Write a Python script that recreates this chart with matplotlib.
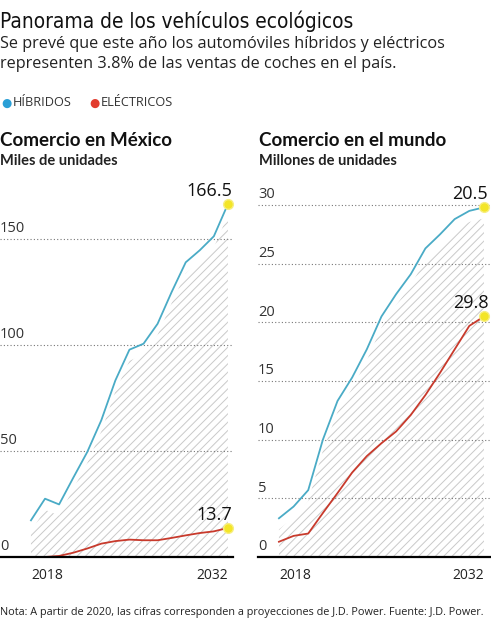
import matplotlib
matplotlib.use('Agg')
import matplotlib.pyplot as plt
from matplotlib import font_manager
from matplotlib.transforms import ScaledTranslation, blended_transform_factory


def pick_font(names):
    """First installed family from names"""
    for n in names:
        try:
            font_manager.findfont(n, fallback_to_default=False)
            return n
        except Exception:
            pass
    return 'DejaVu Sans'


BODY = pick_font(['Open Sans', 'Noto Sans', 'DejaVu Sans'])
BOLD = pick_font(['Lato', 'Open Sans', 'DejaVu Sans'])

# data
years = list(range(2018, 2033))
mx_hibridos = [17.3, 27.5, 24.8, 37.3, 49.5, 64.5, 83.3, 97.8, 100.6, 110.0, 125.0, 139.0, 144.7, 151.3, 166.5]
mx_electricos = [0.0, 0.0, 0.5, 2.0, 4.0, 6.3, 7.5, 8.2, 7.9, 7.9, 9.0, 10.2, 11.3, 12.1, 13.7]
mundo_hibridos = [3.3, 4.3, 5.7, 10.0, 13.3, 15.3, 17.7, 20.5, 22.4, 24.1, 26.3, 27.5, 28.8, 29.5, 29.8]
mundo_electricos = [1.3, 1.8, 2.0, 3.75, 5.45, 7.2, 8.6, 9.7, 10.7, 12.1, 13.8, 15.7, 17.7, 19.7, 20.5]
mx_ticks = [0, 50, 100, 150]
mundo_ticks = [0, 5, 10, 15, 20, 25, 30]
mx_end_labels = ['166.5', '13.7']
mundo_end_labels = ['20.5', '29.8']
title = 'Panorama de los vehículos ecológicos'

BLUE = '#4aabc6'
RED = '#c83a2c'
YELLOW = '#f3e528'
W, H = 491, 620
plt.rcParams['hatch.linewidth'] = 0.7

fig = plt.figure(figsize=(W / 100, H / 100), dpi=100)


def title_props():
    """Condensed sans if there is one, sized so the title is about 355 px wide"""
    fp = font_manager.FontProperties(family='DejaVu Sans', stretch='condensed', size=10)
    t = fig.text(0, 0, title, fontproperties=fp)
    w = t.get_window_extent(fig.canvas.get_renderer()).width
    t.remove()
    fp.set_size(min(10 * 355 / max(w, 1), 21))
    return fp


def px_axes(left, top, right, bottom):
    return fig.add_axes([left / W, 1 - bottom / H, (right - left) / W, (bottom - top) / H])


def draw_panel(ax, hib, ele, ticks, labels, xlim, ylim):
    ax.set_xlim(*xlim)
    ax.set_ylim(*ylim)
    ax.axis('off')
    shift = ax.transData + ScaledTranslation(0, -8 / 72, fig.dpi_scale_trans)
    ax.fill_between(years, -50, hib, transform=shift, facecolor='none',
                    edgecolor='#c9c9c9', hatch='////', linewidth=0, zorder=1)
    blend = blended_transform_factory(ax.transAxes, ax.transData)
    for t in ticks:
        if t == 0:
            ax.plot([0, 1], [0, 0], transform=blend, color='black', lw=1.6, zorder=4, clip_on=False)
        else:
            ax.plot([0, 1], [t, t], transform=blend, color='#777777', lw=0.8,
                    ls=(0, (1, 2)), zorder=2, clip_on=False)
        ax.text(0, t, str(t), transform=blend + ScaledTranslation(0, 2 / 72, fig.dpi_scale_trans),
                ha='left', va='bottom', fontsize=10.5, color='#333333', family=BODY)
    ax.plot(years, hib, color=BLUE, lw=1.3, zorder=3, clip_on=False)
    ax.plot(years, ele, color=RED, lw=1.3, zorder=3, clip_on=False)
    for series, lab in zip([hib, ele], labels):
        ax.plot(years[-1], series[-1], 'o', color=YELLOW, ms=7, mec='#f7ee80', mew=1, zorder=5, clip_on=False)
        ax.text(years[-1], series[-1], lab,
                transform=ax.transData + ScaledTranslation(3 / 72, 3 / 72, fig.dpi_scale_trans),
                ha='right', va='bottom', fontsize=13, color='#111111', family=BODY)
    low = ax.transData + ScaledTranslation(0, -8 / 72, fig.dpi_scale_trans)
    ax.text(years[0], 0, str(years[0]), transform=low, ha='left', va='top', fontsize=10,
            color='#222222', family=BODY)
    ax.text(years[-1], 0, str(years[-1]), transform=low, ha='right', va='top', fontsize=10,
            color='#222222', family=BODY)


ax1 = px_axes(0, 190, 233, 557)
draw_panel(ax1, mx_hibridos, mx_electricos, mx_ticks, mx_end_labels,
           (2015.8, 2032.36), (0, 367 / 2.12))
ax2 = px_axes(258, 190, 491, 557)
draw_panel(ax2, mundo_hibridos, mundo_electricos, mundo_ticks, mundo_end_labels,
           (2016.57, 2032.48), (0, 367 / 11.733))

# texts
fig.text(0, 1 - 21 / H, title, ha='left', va='center', color='#111111', fontproperties=title_props())
fig.text(0, 1 - 44 / H, 'Se prevé que este año los automóviles híbridos y eléctricos',
         ha='left', va='center', fontsize=11.7, color='#222222', family=BODY)
fig.text(0, 1 - 64 / H, 'representen 3.8% de las ventas de coches en el país.',
         ha='left', va='center', fontsize=11.7, color='#222222', family=BODY)

fig.text(6 / W, 1 - 103 / H, '●', ha='center', va='center', fontsize=8.5, color='#2a9fd6')
fig.text(13 / W, 1 - 103 / H, 'HÍBRIDOS', ha='left', va='center', fontsize=9.2, color='#333333', family=BODY)
fig.text(94 / W, 1 - 103 / H, '●', ha='center', va='center', fontsize=8.5, color='#e23c2e')
fig.text(101 / W, 1 - 103 / H, 'ELÉCTRICOS', ha='left', va='center', fontsize=9.2, color='#333333', family=BODY)

fig.text(0, 1 - 140 / H, 'Comercio en México', ha='left', va='center', fontsize=13.5,
         weight='bold', color='#111111', family=BOLD)
fig.text(0, 1 - 161 / H, 'Miles de unidades', ha='left', va='center', fontsize=10.5,
         weight='bold', color='#222222', family=BOLD)
fig.text(259 / W, 1 - 140 / H, 'Comercio en el mundo', ha='left', va='center', fontsize=13.5,
         weight='bold', color='#111111', family=BOLD)
fig.text(259 / W, 1 - 161 / H, 'Millones de unidades', ha='left', va='center', fontsize=10.5,
         weight='bold', color='#222222', family=BOLD)

fig.text(0, 1 - 612 / H,
         'Nota: A partir de 2020, las cifras corresponden a proyecciones de J.D. Power. Fuente: J.D. Power.',
         ha='left', va='center', fontsize=7.8, color='#222222', family=BODY)

fig.savefig('out.png', dpi=100)
